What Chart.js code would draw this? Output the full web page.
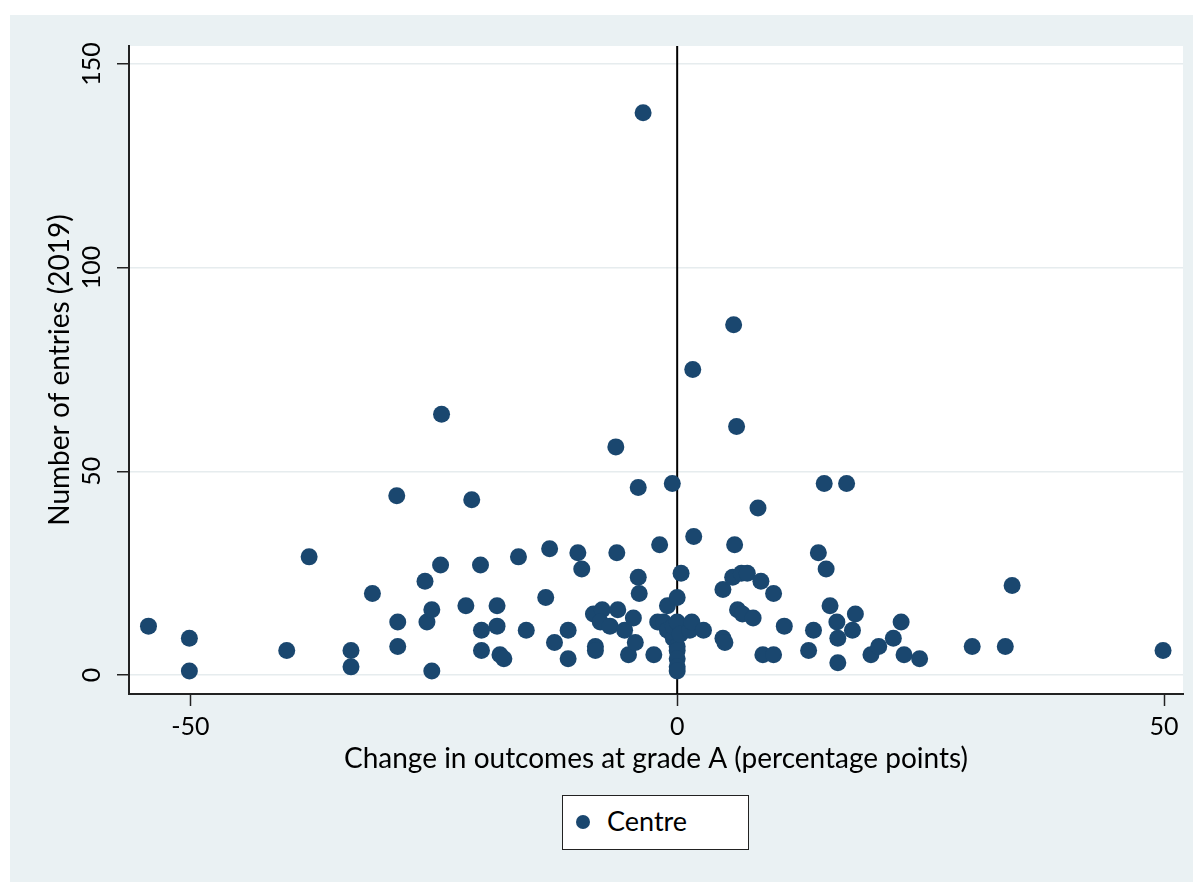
<!DOCTYPE html>
<html>
<head>
<meta charset="utf-8">
<title>Centre scatter</title>
<script src="https://cdn.jsdelivr.net/npm/chart.js@4.4.1/dist/chart.umd.min.js"></script>
<style>
  html, body { margin: 0; padding: 0; background: #ffffff; }
  #wrap { position: relative; width: 1200px; height: 882px; }
  #panel { position: absolute; left: 10px; top: 15px; width: 1183px; height: 867px; background: #eaf1f3; }
  #chart { position: absolute; left: 0; top: 0; }
  #legend {
    position: absolute; left: 562px; top: 795px; width: 187px; height: 55px;
    box-sizing: border-box; border: 1.5px solid #222; background: #ffffff;
    font-family: Lato, sans-serif; font-size: 27px; color: #000;
  }
  #legend .dot { position: absolute; left: 13px; top: 19px; width: 14px; height: 14px; border-radius: 50%; background: #1a476f; }
  #legend .lbl { position: absolute; left: 44px; top: 11px; line-height: 1; }
</style>
</head>
<body>
<div id="wrap">
  <div id="panel"></div>
  <canvas id="chart" width="1200" height="882"></canvas>
  <div id="legend"><span class="dot"></span><span class="lbl">Centre</span></div>
</div>
<script>
// change in outcomes at grade A (percentage points), one per centre
const changeA = [
  -54.3, -50.1, -50.1, -40.1, -37.8, -33.5, -33.5, -31.3, -28.8, -28.7,
  -28.7, -25.9, -25.7, -25.2, -25.2, -24.3, -24.2, -21.7, -21.1, -20.2,
  -20.1, -20.1, -18.5, -18.5, -18.2, -17.8, -16.3, -15.5, -13.5, -13.1,
  -12.6, -11.2, -11.2, -10.2, -9.8, -8.4, -8.4, -8.6, -7.7, -7.9,
  -6.9, -6.2, -6.3, -6.1, -5.4, -5.0, -4.5, -4.3, -4.0, -4.0,
  -3.9, -3.5, -2.4, -2.0, -1.8, -1.4, -1.0, -1.0, -0.5, -0.4,
  -0.4, 0, 0, 0, 0, 0, 0, 0, 0.3, 0.4,
  1.3, 1.5, 1.6, 1.7, 2.7, 4.7, 4.7, 4.9, 5.7, 5.8,
  5.9, 6.1, 6.2, 6.6, 6.7, 7.2, 7.8, 8.3, 8.6, 8.8,
  9.9, 9.9, 11.0, 13.5, 14.0, 14.5, 15.1, 15.3, 15.7, 16.4,
  16.5, 16.5, 17.4, 18.0, 18.3, 19.9, 20.7, 22.2, 23.0, 23.3,
  24.9, 30.3, 33.7, 34.4, 49.9
];

// number of entries (2019), same order
const entries = [
  12, 9, 1, 6, 29, 6, 2, 20, 44, 13,
  7, 23, 13, 16, 1, 27, 64, 17, 43, 27,
  11, 6, 17, 12, 5, 4, 29, 11, 19, 31,
  8, 11, 4, 30, 26, 7, 6, 15, 16, 13,
  12, 30, 56, 16, 11, 5, 14, 8, 46, 24,
  20, 138, 5, 13, 32, 13, 11, 17, 47, 9,
  12, 13, 19, 7, 6, 4, 2, 1, 10, 25,
  11, 13, 75, 34, 11, 21, 9, 8, 24, 86,
  32, 61, 16, 25, 15, 25, 14, 41, 23, 5,
  20, 5, 12, 6, 11, 30, 47, 26, 17, 13,
  9, 3, 47, 11, 15, 5, 7, 9, 13, 5,
  4, 7, 7, 22, 6
];

const xTicks = [-50, 0, 50];
const yTicks = [0, 50, 100, 150];
const xRange = [-56.3, 51.95];
const yRange = [-4.66, 154.4];

const points = changeA.map((x, i) => ({ x: x, y: entries[i] }));

const plotBg = {
  id: 'plotBg',
  beforeDraw(chart) {
    const { ctx, chartArea: a } = chart;
    ctx.save();
    ctx.fillStyle = '#ffffff';
    ctx.fillRect(a.left, a.top, a.right - a.left, a.bottom - a.top);
    ctx.restore();
  }
};

const tickFont = { family: 'Lato, sans-serif', size: 25 };
const titleFont = { family: 'Lato, sans-serif', size: 28 };

new Chart(document.getElementById('chart'), {
  type: 'scatter',
  data: {
    datasets: [
      {
        label: 'Centre',
        data: points,
        backgroundColor: '#1a476f',
        borderColor: '#1a476f',
        borderWidth: 0,
        pointRadius: 8.5,
        order: 1
      },
      {
        type: 'line',
        label: 'zero',
        data: [{ x: 0, y: yRange[0] }, { x: 0, y: yRange[1] }],
        borderColor: '#000000',
        borderWidth: 2,
        pointRadius: 0,
        order: 2
      }
    ]
  },
  options: {
    responsive: false,
    animation: false,
    devicePixelRatio: 1,
    events: [],
    layout: { padding: { left: 0, top: 46, right: 17, bottom: 106 } },
    plugins: {
      legend: { display: false },
      tooltip: { enabled: false }
    },
    scales: {
      x: {
        type: 'linear',
        min: xRange[0],
        max: xRange[1],
        afterBuildTicks: s => { s.ticks = xTicks.map(v => ({ value: v })); },
        afterFit: s => { s.height = 82; },
        grid: { drawOnChartArea: false, tickLength: 12, tickColor: '#222', tickWidth: 1.5 },
        border: { color: '#222', width: 2 },
        ticks: { font: tickFont, color: '#000', padding: 6, maxRotation: 0 },
        title: {
          display: true,
          text: 'Change in outcomes at grade A (percentage points)',
          font: titleFont, color: '#000',
          padding: { top: 0, bottom: 0 }
        }
      },
      y: {
        type: 'linear',
        min: yRange[0],
        max: yRange[1],
        afterBuildTicks: s => { s.ticks = yTicks.map(v => ({ value: v })); },
        afterFit: s => { s.width = 129; },
        grid: { color: '#e6ecee', lineWidth: 1.5, tickLength: 12, tickColor: '#222', tickWidth: 1.5 },
        border: { color: '#222', width: 2 },
        ticks: { font: tickFont, color: '#000', padding: 3, minRotation: 90, maxRotation: 90, crossAlign: 'center' },
        title: {
          display: true,
          text: 'Number of entries (2019)',
          font: titleFont, color: '#000',
          padding: { top: 43, bottom: 0 }
        }
      }
    }
  },
  plugins: [plotBg]
});
</script>
</body>
</html>
